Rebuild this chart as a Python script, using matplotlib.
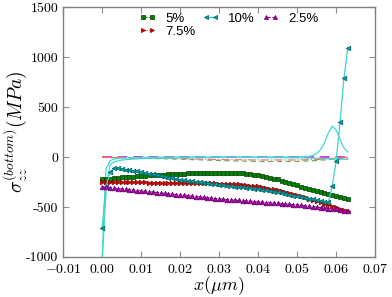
import numpy as np
import matplotlib
matplotlib.use("Agg")
import matplotlib.pyplot as plt

plt.rcParams['mathtext.fontset'] = 'cm'

# ---- data ----
x_pts = [i * 0.001 for i in range(64)]

s5 = [-225, -221, -217, -213, -209, -205, -202, -199, -196, -193, -190, -188, -185, -183, -180, -178,
      -176, -174, -172, -170, -168, -166, -165, -163, -162, -160, -159, -158, -157, -156, -156, -156,
      -156, -157, -158, -160, -163, -167, -172, -178, -185, -192, -200, -208, -216, -225, -236, -248,
      -260, -272, -285, -297, -309, -321, -333, -345, -355, -365, -375, -385, -395, -404, -412, -420]

s75 = [-250, -250, -251, -251, -252, -252, -253, -253, -254, -254, -255, -255, -256, -256, -257, -257,
       -258, -258, -259, -259, -260, -261, -261, -262, -262, -263, -264, -264, -265, -265, -266, -267,
       -269, -271, -273, -275, -278, -282, -286, -290, -295, -301, -308, -316, -324, -333, -342, -352,
       -362, -372, -383, -394, -405, -416, -428, -440, -453, -466, -479, -492, -505, -518, -531, -545]

s10 = [-710, -300, -150, -115, -115, -120, -126, -132, -138, -144, -150, -158, -166, -174, -182, -190,
       -198, -206, -213, -221, -228, -234, -239, -245, -250, -255, -260, -265, -270, -275, -280, -284,
       -288, -292, -296, -300, -304, -308, -312, -316, -320, -326, -333, -340, -348, -355, -363, -371,
       -379, -387, -395, -402, -409, -416, -423, -430, -438, -446, -455, -290, -40, 350, 790, 1095]

s25 = [-300, -304, -308, -312, -316, -320, -324, -328, -332, -336, -340, -344, -348, -352, -356, -360,
       -364, -368, -372, -376, -380, -384, -388, -392, -396, -400, -404, -408, -412, -416, -420, -423,
       -426, -429, -432, -435, -438, -441, -444, -447, -450, -453, -456, -459, -462, -465, -468, -471,
       -474, -477, -480, -484, -489, -493, -498, -502, -507, -511, -516, -520, -525, -532, -538, -545]

# thin companion curves (unlabelled)
xt = [0.0, 0.005, 0.01, 0.02, 0.03, 0.04, 0.05, 0.055, 0.06, 0.063]
t5 = [-5, -8, -12, -22, -35, -45, -45, -35, -20, -12]
t75 = [-3, -5, -8, -15, -25, -30, -30, -25, -12, -5]
t25 = [3, 3, 3, 3, 3, 3, 3, 3, 3, 3]

xc_a = [0.0, 0.001, 0.002, 0.003, 0.005, 0.01, 0.02, 0.03, 0.04, 0.05, 0.055, 0.06, 0.063]
tc_a = [-1050, -350, -80, -50, -30, -15, -8, -5, -5, -8, -12, -20, -25]
xc_b = [0.0, 0.0005, 0.001, 0.002, 0.003, 0.005, 0.01, 0.02, 0.03, 0.04, 0.05, 0.053, 0.054,
        0.055, 0.056, 0.057, 0.058, 0.059, 0.060, 0.061, 0.062, 0.063]
tc_b = [-1050, -500, -120, -40, -20, -10, -5, 0, 0, 0, 0, 5, 15,
        35, 75, 140, 240, 310, 270, 175, 90, 50]

labels = ['5%', '7.5%', '10%', '2.5%']
xticks = [-0.01, 0.0, 0.01, 0.02, 0.03, 0.04, 0.05, 0.06, 0.07]
xticklabels = [r'$-0.01$', r'$0.00$', r'$0.01$', r'$0.02$', r'$0.03$', r'$0.04$', r'$0.05$', r'$0.06$', r'$0.07$']
yticks = [-1000, -500, 0, 500, 1000, 1500]
yticklabels = ['-1000', '-500', '0', '500', '1000', '1500']

# ---- figure ----
fig = plt.figure(figsize=(3.92, 2.97), dpi=100)
ax = fig.add_axes([0.161, 0.135, 0.796, 0.841])

green = '#007f00'
red = '#e00000'
cyan = '#00a0a8'
mag = '#b000b0'

# thin curves
ax.plot(xt, t25, color='#d040d0', lw=1.4, ls=(0, (5, 3)), zorder=2)
ax.plot(xt, t5, color='#60b060', lw=0.9, ls=(0, (4, 3)), zorder=2)
ax.plot(xt, t75, color='#ff7070', lw=0.9, ls='-.', zorder=2)
ax.plot(xc_a, tc_a, color='#40d8d8', lw=0.9, zorder=2)
ax.plot(xc_b, tc_b, color='#40d8d8', lw=0.9, zorder=2)

# marker series
ms = 3.3
ax.plot(x_pts, s5, color=green, ls='--', lw=0.8, marker='s', ms=ms, mew=0.5, mec='#004000', label=labels[0], zorder=3)
ax.plot(x_pts, s75, color=red, ls=':', lw=0.8, marker='>', ms=ms, mew=0.5, mec='#800000', label=labels[1], zorder=3)
ax.plot(x_pts, s10, color='#40d0d0', ls='-', lw=0.9, marker='<', ms=ms, mew=0.5, mfc=cyan, mec='#006060', label=labels[2], zorder=3)
ax.plot(x_pts, s25, color=mag, ls='--', lw=0.8, marker='^', ms=ms, mew=0.5, mec='#600060', label=labels[3], zorder=3)

ax.set_xlim(-0.01, 0.07)
ax.set_ylim(-1000, 1500)
ax.set_xticks(xticks)
ax.set_xticklabels(xticklabels, fontsize=10)
ax.set_yticks(yticks)
ax.set_yticklabels(yticklabels, fontsize=10, family='cmr10')

for sp in ax.spines.values():
    sp.set_color('#808080')
    sp.set_linewidth(1.0)
ax.tick_params(direction='in', length=4, width=0.8, color='#909090', top=True, right=True,
               labelcolor='black')

ax.set_xlabel(r'$x(\mu m)$', fontsize=13, labelpad=-1)
ax.set_ylabel(r'$\sigma_{zz}^{(bottom)}(MPa)$', fontsize=14, labelpad=-2)

leg = ax.legend(loc='upper center', bbox_to_anchor=(0.53, 1.01), ncol=3, frameon=False,
                numpoints=2, handlelength=1.3, handletextpad=0.7, columnspacing=0.5,
                labelspacing=0.05, borderpad=0.1, markerscale=0.9,
                prop={'family': 'Liberation Sans', 'size': 9.5})

fig.savefig('out.png', dpi=100)
